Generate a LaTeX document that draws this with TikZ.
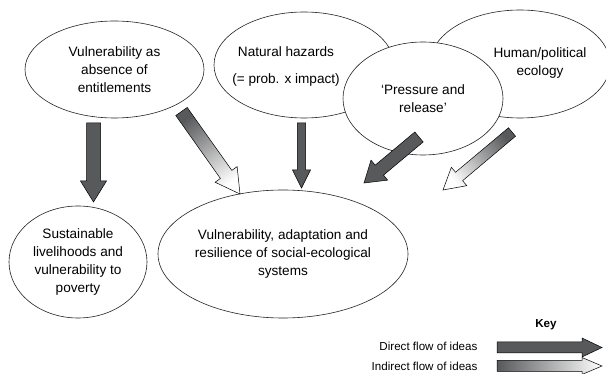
\documentclass[tikz,border=0pt]{standalone}
\usepackage{fontspec}
\setmainfont{Liberation Sans}
\usetikzlibrary{shapes.geometric,calc}

\definecolor{arrowgray}{RGB}{88,89,91}
\definecolor{linegray}{RGB}{35,35,35}

\tikzset{
  bubble/.style={ellipse, draw=linegray, line width=0.6pt, fill=white, inner sep=0pt, align=center},
  direct/.style={draw=black, line width=0.5pt, fill=arrowgray},
  indirect/.style={draw=black, line width=0.5pt, top color=white, bottom color=arrowgray, shading angle=\flowangle},
  keytext/.style={font=\fontsize{11.6}{14}\selectfont},
}

% block arrow: style, tail, tip, half shaft, half head, head length
\newcommand\flowarrow[6]{%
  \pgfmathanglebetweenpoints{\pgfpointanchor{#2}{center}}{\pgfpointanchor{#3}{center}}%
  \pgfmathsetmacro\flowangle{\pgfmathresult-90}%
  \coordinate (base) at ($(#3)!#6!(#2)$);
  \path[#1]
    ($(#2)!#4!90:(#3)$) -- ($(base)!#4!90:(#3)$) -- ($(base)!#5!90:(#3)$) -- (#3)
    -- ($(base)!#5!-90:(#3)$) -- ($(base)!#4!-90:(#3)$) -- ($(#2)!#4!-90:(#3)$) -- cycle;
}

\begin{document}
\begin{tikzpicture}[x=1pt, y=-1pt, font=\fontsize{13.6}{18}\selectfont]
\useasboundingbox (0,0) rectangle (606,374);

% the schools of thought
\node[bubble, minimum width=179, minimum height=97] (ent) at (114.5,69.5)
  {Vulnerability as\\absence of\\entitlements};
\node[bubble, minimum width=180, minimum height=106,
  label={[align=center, xshift=-18pt, yshift=-1.5pt]center:Natural hazards\\[9pt](= prob. x impact)}] (haz) at (304,65) {};
\node[bubble, minimum width=180, minimum height=108,
  label={[align=center, xshift=20pt, yshift=1.5pt]center:Human/political\\ecology}] (hpe) at (520,64) {};
\node[bubble, minimum width=160, minimum height=113] (par) at (423,98.5)
  {‘Pressure and\\release’};

\node[bubble, minimum width=138, minimum height=112] (slv) at (78,262)
  {Sustainable\\livelihoods and\\vulnerability to\\poverty};
\node[bubble, minimum width=250, minimum height=128] (ses) at (283,254)
  {Vulnerability, adaptation and\\resilience of social-ecological\\systems};

% arrow ends
\coordinate (ent-down) at (93.5,123);
\coordinate (slv-top) at (93.5,202);
\coordinate (ent-side) at (181.5,111.5);
\coordinate (ses-nw) at (240,194);
\coordinate (haz-down) at (301.5,123);
\coordinate (ses-n) at (301.5,188);
\coordinate (par-down) at (419,137);
\coordinate (ses-ne) at (364,183);
\coordinate (hpe-down) at (512,132);
\coordinate (ses-e) at (443,190);

\flowarrow{direct}{ent-down}{slv-top}{7pt}{13pt}{21pt}
\flowarrow{indirect}{ent-side}{ses-nw}{7pt}{13.5pt}{24pt}
\flowarrow{direct}{haz-down}{ses-n}{4.2pt}{9pt}{18pt}
\flowarrow{direct}{par-down}{ses-ne}{6.5pt}{13pt}{20pt}
\flowarrow{indirect}{hpe-down}{ses-e}{5.5pt}{12pt}{21pt}

% key
\node[keytext, font=\bfseries\fontsize{11.6}{14}\selectfont] (key) at (546,325) {Key};
\node[keytext, anchor=east] (direct-lbl) at (481,346) {Direct flow of ideas};
\node[keytext, anchor=east] (indirect-lbl) at (481,366) {Indirect flow of ideas};
\coordinate (key-d0) at (497,347.5);
\coordinate (key-d1) at (602,347.5);
\coordinate (key-i0) at (497,366);
\coordinate (key-i1) at (602,366);
\flowarrow{direct}{key-d0}{key-d1}{5.5pt}{9.5pt}{20pt}
\flowarrow{indirect}{key-i0}{key-i1}{5.5pt}{8.5pt}{20pt}
\end{tikzpicture}
\end{document}
